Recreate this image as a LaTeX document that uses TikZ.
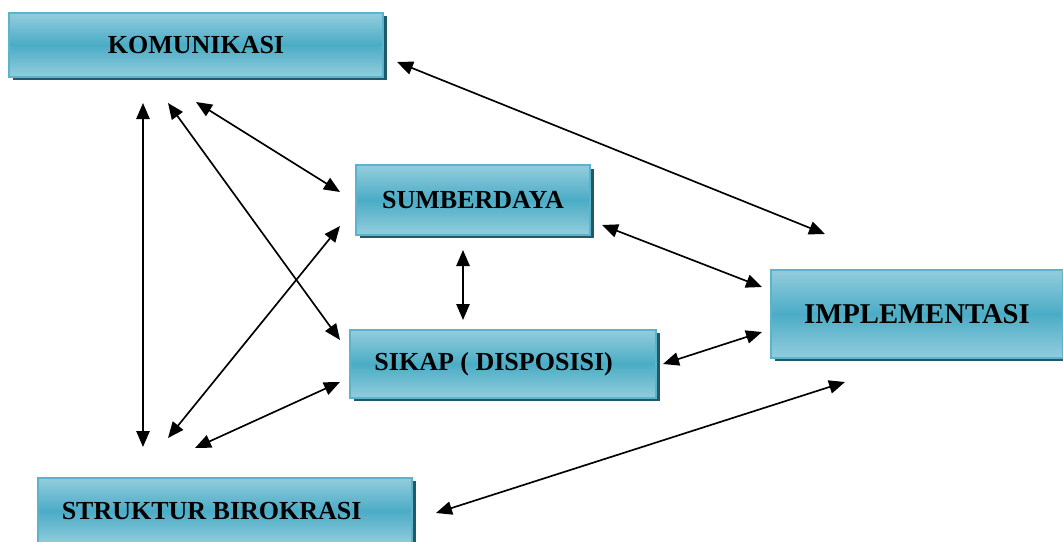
\documentclass[tikz,border=0pt]{standalone}
\usepackage{fontspec}
\setmainfont{Liberation Serif}
\usetikzlibrary{arrows.meta,shadows}

\definecolor{boxlight}{HTML}{93CDDD}
\definecolor{boxmid}{HTML}{4BACC6}
\definecolor{boxline}{HTML}{5BB4CC}
\definecolor{boxshadow}{HTML}{215968}

\begin{document}
\begin{tikzpicture}[x=0.75pt, y=-0.75pt]
\tikzstyle{block} = [rectangle, draw = boxline, line width = 1.5pt,
  top color = boxlight, bottom color = boxlight, middle color = boxmid,
  drop shadow = {fill = boxshadow, opacity = 1, shadow xshift = 3pt, shadow yshift = -2.5pt},
  font = \bfseries\fontsize{19.5}{22}\selectfont, inner sep = 0pt]
\tikzstyle{edge} = [{Triangle[length=12pt, width=10pt]}-{Triangle[length=12pt, width=10pt]}, line width = 1.25pt]
\useasboundingbox (0, 0) rectangle (1063, 542);
% -----------------------------------
% blocks
\node[block, minimum width = 280pt, minimum height = 48pt] (kom) at (196, 45) {KOMUNIKASI};
\node[block, minimum width = 175pt, minimum height = 52pt] (sum) at (473, 200) {SUMBERDAYA};
\node[block, minimum width = 229pt, minimum height = 51pt] (sik) at (503, 364) {SIKAP ( DISPOSISI)\hspace*{14pt}};
\node[block, minimum width = 219pt, minimum height = 66pt, font = \bfseries\fontsize{21.5}{24}\selectfont] (imp) at (917, 314) {IMPLEMENTASI};
\node[block, minimum width = 281pt, minimum height = 50pt] (str) at (225, 511) {STRUKTUR BIROKRASI\hspace*{20pt}};

% -----------------------------------
% arrow ends
\coordinate (kom1) at (143, 103);
\coordinate (kom2) at (168, 103);
\coordinate (kom3) at (196, 102);
\coordinate (kom4) at (397, 62);
\coordinate (sum1) at (340, 192);
\coordinate (sum2) at (340, 226);
\coordinate (sum3) at (463, 250);
\coordinate (sum4) at (602, 225);
\coordinate (sik1) at (340, 340);
\coordinate (sik2) at (340, 382);
\coordinate (sik3) at (463, 320);
\coordinate (sik4) at (663, 364);
\coordinate (imp1) at (825, 234);
\coordinate (imp2) at (762, 287);
\coordinate (imp3) at (762, 332);
\coordinate (imp4) at (845, 382);
\coordinate (str1) at (143, 447);
\coordinate (str2) at (168, 438);
\coordinate (str3) at (195, 448);
\coordinate (str4) at (436, 513);

% -----------------------------------
% links
\draw[edge] (kom1)--(str1);
\draw[edge] (kom2)--(sik1);
\draw[edge] (kom3)--(sum1);
\draw[edge] (kom4)--(imp1);
\draw[edge] (sum2)--(str2);
\draw[edge] (sum3)--(sik3);
\draw[edge] (sum4)--(imp2);
\draw[edge] (sik2)--(str3);
\draw[edge] (sik4)--(imp3);
\draw[edge] (str4)--(imp4);
% -----------------------------------
\end{tikzpicture}
\end{document}
